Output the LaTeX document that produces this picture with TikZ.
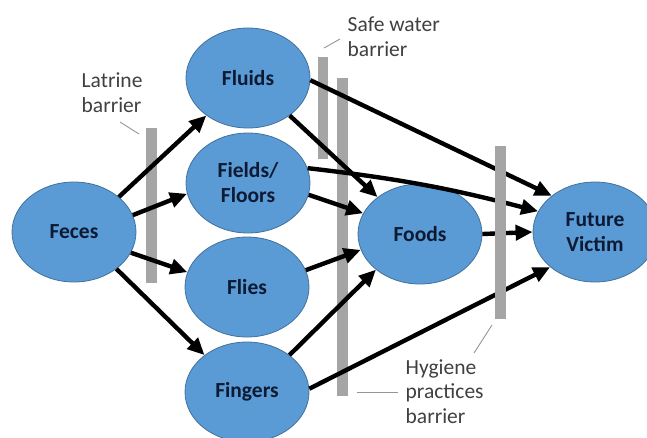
\documentclass[tikz,border=0pt]{standalone}
\usepackage{fontspec}
\setmainfont{Carlito}
\usetikzlibrary{shapes.geometric,arrows.meta}
\definecolor{nodefill}{HTML}{5B9BD5}
\definecolor{nodeedge}{HTML}{41719C}
\definecolor{nodetext}{HTML}{0C1A33}
\definecolor{barriergray}{HTML}{A5A5A5}
\definecolor{labeltext}{HTML}{404040}
\definecolor{leadergray}{HTML}{959595}

\begin{document}
\begin{tikzpicture}[x=1pt,y=-1pt,
  stage/.style={ellipse, draw=nodeedge, line width=0.8pt, fill=nodefill,
    minimum width=124pt, minimum height=100pt, inner sep=0pt, align=center,
    text=nodetext, font=\fontsize{21.5}{25}\selectfont\bfseries},
  barrier/.style={rectangle, fill=barriergray, inner sep=0pt, minimum width=11pt},
  note/.style={anchor=north west, inner sep=0pt, align=left, text=labeltext,
    font=\fontsize{21.5}{24.5}\selectfont},
  leader/.style={draw=leadergray, line width=0.9pt},
  flow/.style={line width=4.4pt, -{Triangle[length=17pt,width=15pt]}}
]
\useasboundingbox (0,0) rectangle (647,437);
\clip (0,0) rectangle (647,437);

% barriers lying under the transmission routes
\node[barrier, minimum height=155pt] (latrine) at (151.5,205.5) {};
\node[barrier, minimum width=10pt, minimum height=102pt] (water) at (322.5,108) {};
\node[barrier, minimum height=318pt] (hygieneA) at (342.5,237) {};

% the F-diagram stages
\node[stage] (feces)   at (74,232)  {Feces};
\node[stage] (fluids)  at (248,78)  {Fluids};
\node[stage] (fields)  at (248,183) {Fields/\\Floors};
\node[stage] (flies)   at (247,287) {Flies};
\node[stage] (fingers) at (247,392) {Fingers};
\node[stage] (foods)   at (420,234) {Foods};
\node[stage] (victim)  at (595,232) {Future\\Victim};

% transmission routes
\draw[flow] (feces.38)   -- (fluids.222);
\draw[flow] (feces.16)   -- (fields.190);
\draw[flow] (feces.-20)  -- (flies.166);
\draw[flow] (feces.-41)  -- (fingers.139);
\draw[flow] (fluids.-2)  -- (victim.140);
\draw[flow] (fluids.-42) -- (foods.139);
\draw[flow] (fields.14)  to[bend left=4] (victim.160);
\draw[flow] (fields.-11) -- (foods.160);
\draw[flow] (flies.16)   -- (foods.195);
\draw[flow] (fingers.41) -- (foods.219);
\draw[flow] (fingers.3)  -- (victim.218);
\draw[flow] (foods.east) -- (victim.west);

% hygiene barrier in front of the routes into the victim
\node[barrier, minimum height=173pt] (hygieneB) at (500.5,232.5) {};

% barrier labels and their leader lines
\node[note] (latrinelbl) at (81.5,73)  {Latrine\\barrier};
\node[note] (waterlbl)   at (347.5,17) {Safe water\\barrier};
\node[note] (hygienelbl) at (405.5,359) {Hygiene\\practices\\barrier};

\coordinate (lat1) at (120,122);  \coordinate (lat2) at (139,134);
\coordinate (wat1) at (324,48);   \coordinate (wat2) at (340,39);
\coordinate (hyg1) at (492,325);  \coordinate (hyg2) at (474,353);
\coordinate (hyg3) at (357,392);  \coordinate (hyg4) at (398,392);
\draw[leader] (lat1) -- (lat2);
\draw[leader] (wat1) -- (wat2);
\draw[leader] (hyg1) -- (hyg2);
\draw[leader] (hyg3) -- (hyg4);
\end{tikzpicture}
\end{document}
